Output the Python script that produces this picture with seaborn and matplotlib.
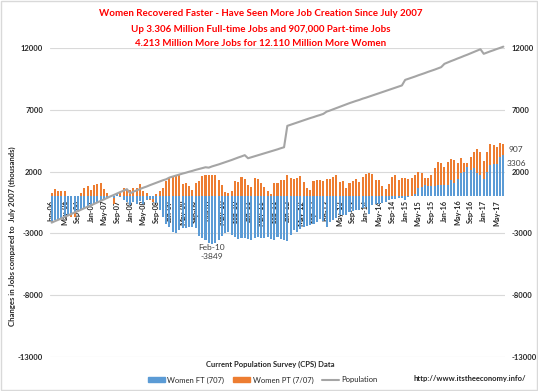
import numpy as np
import pandas as pd
import matplotlib
matplotlib.use('Agg')
import matplotlib.pyplot as plt
from matplotlib.patches import Patch, Rectangle
from matplotlib.lines import Line2D
import seaborn as sns

# monthly categories Jan-06 .. Jul-17
months = list(pd.date_range('2006-01-01', periods=139, freq='MS').strftime('%b-%y'))

# Women full-time jobs vs July 2007 (thousands)
women_ft = [
    -2000, -1950, -1850, -1800, -1700, -1550, -1400, -1250, -1150, -1050, -950, -900,
    -750, -650, -550, -400, -300, -150,
    0, -100, 150, -50, -300, -450,
    -700, -500, -650, -400, -600, -300, -200, -250, -550,
    -1100, -1650, -2200, -2450, -2850, -2950, -2750, -2600, -2600, -2500, -2450, -2600,
    -3250, -3400, -3550, -3750, -3849, -3750, -3500, -3250, -3000, -2850, -3100, -3300,
    -3450, -3400, -3350, -3450, -3500, -3400, -3300, -3350, -3400, -3300, -3450, -3550,
    -3300, -3450, -3500, -3600, -3100, -2750, -2900, -2650, -2500, -2400, -2300, -2200,
    -2100, -1850, -2000, -2450, -2050, -1900, -1750, -1550, -1500, -1550, -1250, -1150,
    -1100, -1100, -950, -850, -1450, -700, -650, -600, -550, -450, -300, -250,
    -200, -150, -150, -300, -50, 0, 150, 650, 780, 920, 840, 850,
    870, 920, 950, 900, 930, 1320, 1100, 1380, 1860, 2000, 2400, 2130,
    2270, 1860, 1730, 1380, 2000, 2540, 2650, 2620, 3210, 3306,
]

# Women part-time jobs vs July 2007 (thousands)
women_pt = [
    250, 570, 450, 430, 440, 50, -250, -400, -150, 250, 700, 800,
    520, 900, 980, 1100, 580, 250,
    0, -550, 100, 300, 700, 580,
    500, 650, 700, 1000, 450, 250, -100, -250, 150,
    400, 700, 1200, 1450, 1650, 1750, 1700, 1000, 1050, 850, 500, 1100,
    1200, 1650, 1750, 1700, 1700, 1750, 1300, 900,
    380, 300, 400, 1270, 1130, 1540, 1400, 920, 780, 1460, 1380, 1050,
    760, 470, 150, 1080, 1100, 1300, 1320, 1700, 1500, 1400, 1450, 1650,
    1150, 700, 500, 1200, 1300, 1320, 1270, 1400, 1380, 1600, 1730, 1190,
    1270, 650, 1050, 1240, 1380, 1190, 1600, 1810, 1920, 1780, 1320, 1320,
    840, 570, 1000, 1540, 1730, 1320, 1460, 1460,
    1400, 1460, 1580, 1350, 1140, 600, 620, 880, 1400, 1890, 1780, 1500,
    1880, 1680, 1840, 1290, 1220, 670, 330, 1030, 1350, 1940, 1890, 1510,
    1620, 1700, 1510, 1400, 1140, 907,
]

# Women civilian population vs July 2007 (thousands)
population = [
    -2130, -2010, -1900, -1780, -1660, -1550, -1430, -1310, -1200, -1080, -960, -840,
    -730, -610, -490, -370, -250, -120,
    0, 110, 230, 350, 460, 580,
    250, 380, 480, 590, 700, 790, 900, 1000, 1100, 1200, 1300, 1380,
    1520, 1600, 1680, 1760, 1840, 1910, 1990, 2060, 2140, 2210, 2280, 2350,
    2320, 2420, 2500, 2580, 2670, 2760, 2850, 2940, 3040, 3140, 3230, 3330,
    3080, 3160, 3240, 3320, 3400, 3480, 3560, 3640, 3720, 3800, 3890, 3970,
    5700, 5790, 5880, 5970, 6060, 6150, 6240, 6330, 6410, 6500, 6580, 6670,
    6850, 6940, 7040, 7140, 7240, 7340, 7440, 7540, 7630, 7720, 7800, 7900,
    7980, 8070, 8160, 8250, 8340, 8430, 8520, 8610, 8700, 8790, 8880, 8970,
    9420, 9510, 9600, 9690, 9790, 9880, 9970, 10070, 10160, 10250, 10350, 10450,
    10720, 10830, 10940, 11040, 11150, 11250, 11360, 11460, 11570, 11680, 11790, 11900,
    11530, 11630, 11730, 11820, 11920, 12010, 12110,
]

yticks = [-13000, -8000, -3000, 2000, 7000, 12000]

BLUE = '#5B9BD5'
ORANGE = '#ED7D31'
GRAY = '#A5A5A5'

sns.set_style('white')
plt.rcParams['font.family'] = ['Lato', 'DejaVu Sans']

ft = np.array(women_ft)
pt = np.array(women_pt)
# excel-style stacking: positives stack on positives, negatives on negatives
same_sign = np.sign(ft) == np.sign(pt)
pt_stack = np.where(same_sign, ft + pt, pt)

df = pd.DataFrame({'month': months, 'ft': ft, 'pt_stack': pt_stack, 'pop': population})

fig = plt.figure(figsize=(5.38, 3.91), dpi=100)
ax = fig.add_axes([50 / 538, 1 - 357 / 391, 455 / 538, 309 / 391])

sns.barplot(data=df, x='month', y='pt_stack', color=ORANGE, saturation=1,
            width=0.62, linewidth=0, ax=ax, zorder=2)
sns.barplot(data=df, x='month', y='ft', color=BLUE, saturation=1,
            width=0.62, linewidth=0, ax=ax, zorder=2)
ax.plot(np.arange(len(months)), df['pop'], color=GRAY, lw=1.5, zorder=4, clip_on=False)

# category axis sits on the zero line (set before styling the ticks)
ax.spines['bottom'].set_position(('data', 0))
for s in ax.spines.values():
    s.set_visible(False)

ax.set_ylim(-13000, 12000)
ax.set_xlim(-0.5, len(months) - 0.5)
ax.set_yticks(yticks)
ax.set_yticklabels([str(v) for v in yticks], fontsize=5.5, fontweight='bold')
ax.yaxis.grid(True, color='#d9d9d9', lw=0.8)
ax.set_axisbelow(True)
ax.tick_params(axis='y', length=0, pad=5, labelright=True)

ax.set_xticks(range(0, len(months), 4))
ax.set_xticklabels(months[::4], rotation=90, fontsize=5.2, fontweight='bold')
ax.tick_params(axis='x', length=0, pad=2.5)
ax.set_xlabel('')
ax.set_ylabel('')

# annotations
ax.text(49, -3849, 'Feb-10\n-3849', ha='center', va='top', fontsize=6,
        color='#404040', linespacing=1.3)
ax.annotate('12110', (len(months) - 1, population[-1]), xytext=(0, 4),
            textcoords='offset points', ha='center', va='bottom', fontsize=6, color='#595959')
ax.annotate('907', (len(months) - 1, women_ft[-1] + women_pt[-1] / 2), xytext=(4, 0),
            textcoords='offset points', ha='left', va='center', fontsize=6, color='#404040')
ax.annotate('3306', (len(months) - 1, women_ft[-1]), xytext=(2, -6),
            textcoords='offset points', ha='left', va='center', fontsize=6, color='#404040')

title_lines = ['Women Recovered Faster - Have Seen More Job Creation Since July 2007',
               'Up 3.306 Million Full-time Jobs and 907,000 Part-time Jobs',
               '4.213 Million More Jobs for 12.110 Million More Women']
for k, line in enumerate(title_lines):
    fig.text(261 / 538, 1 - (14 + 15 * k) / 391, line, ha='center', va='center',
             color='#FF0000', fontsize=7.0, fontweight='bold')

fig.text(12 / 538, 1 - 236 / 391, 'Changes in Jobs compared to  July 2007 (thousands)',
         rotation=90, ha='center', va='center', fontsize=5.6, fontweight='bold')
fig.text(270 / 538, 1 - 364 / 391, 'Current Population Survey (CPS) Data',
         ha='center', va='center', fontsize=5.5, fontweight='bold')
fig.text(413 / 538, 1 - 379 / 391, 'http://www.itstheeconomy.info/',
         ha='left', va='center', fontsize=5.5, fontweight='bold')

handles = [Patch(color=BLUE, label='Women FT (707)'),
           Patch(color=ORANGE, label='Women PT (7/07)'),
           Line2D([], [], color=GRAY, lw=1.5, label='Population')]
fig.legend(handles=handles, loc='center', bbox_to_anchor=(263 / 538, 1 - 380 / 391),
           ncol=3, frameon=False, fontsize=5.5, handlelength=2.2, handleheight=0.6,
           columnspacing=1.2, handletextpad=0.3)

fig.patches.append(Rectangle((0.002, 0.002), 0.996, 0.996, transform=fig.transFigure,
                             fill=False, edgecolor='#d9d9d9', lw=1))

fig.savefig('out.png', dpi=100)
